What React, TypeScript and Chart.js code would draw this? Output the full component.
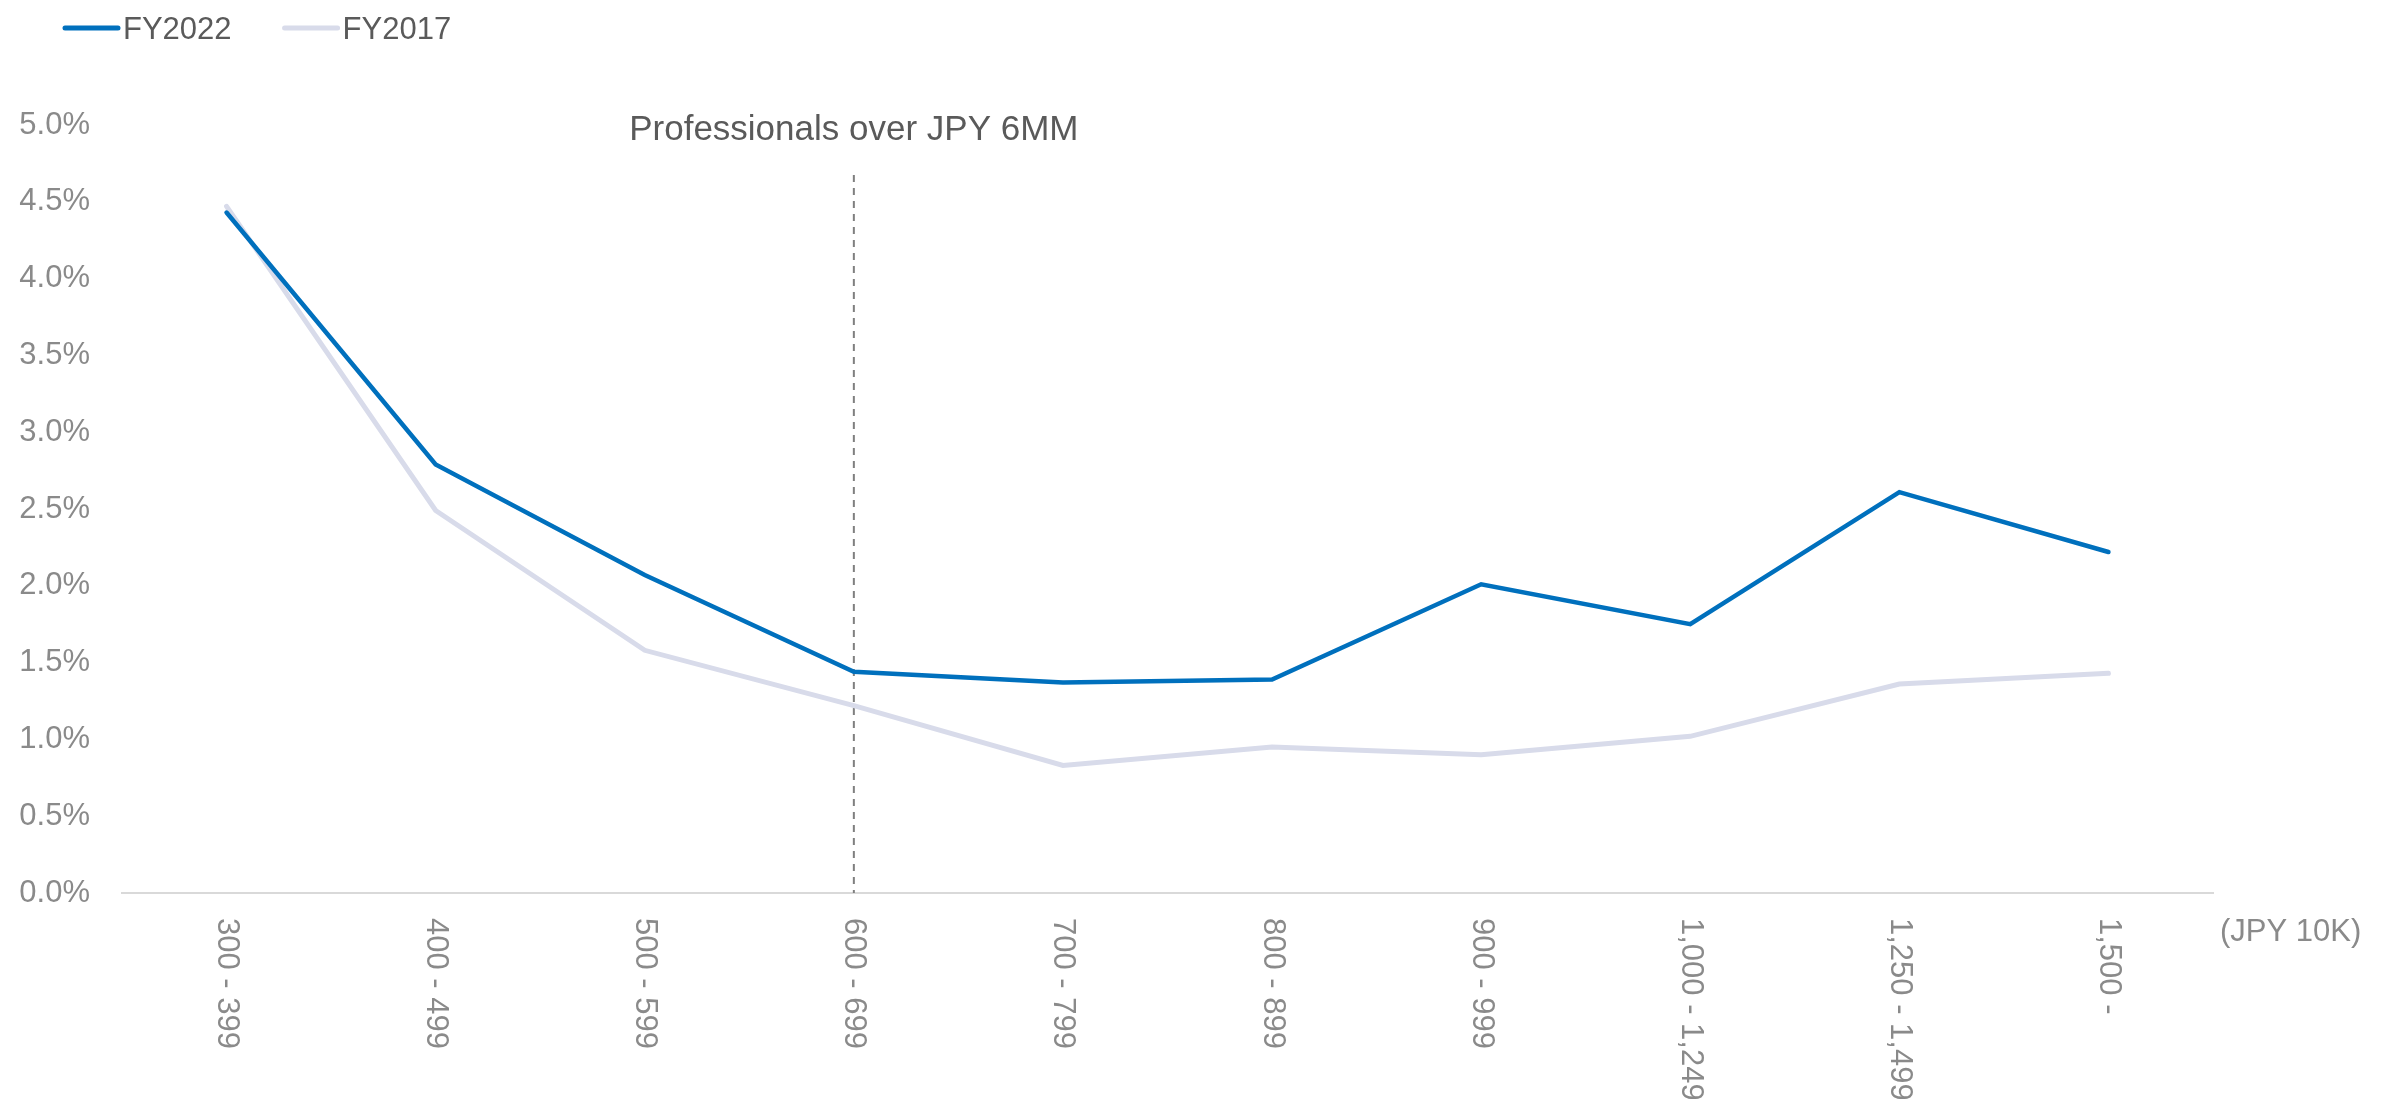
import React, { useEffect, useRef } from "react";
import { Chart, registerables } from "chart.js";

Chart.register(...registerables);

// ---- data ----
const categories = [
  "300 - 399",
  "400 - 499",
  "500 - 599",
  "600 - 699",
  "700 - 799",
  "800 - 899",
  "900 - 999",
  "1,000 - 1,249",
  "1,250 - 1,499",
  "1,500 -",
];
const fy2022 = [4.43, 2.79, 2.07, 1.44, 1.37, 1.39, 2.01, 1.75, 2.61, 2.22];
const fy2017 = [4.47, 2.49, 1.58, 1.22, 0.83, 0.95, 0.9, 1.02, 1.36, 1.43];
const seriesLabels = ["FY2022", "FY2017"];
const yMin = 0;
const yMax = 5;
const yStep = 0.5;
const thresholdIndex = 3;
const thresholdLabel = "Professionals over JPY 6MM";
const unitLabel = "(JPY 10K)";

const FONT = "'Liberation Sans', Arial, sans-serif";
const TICK_COLOR = "#8a8a8a";
const TEXT_COLOR = "#5a5a5a";

const overlayPlugin = {
  id: "overlay",
  beforeDatasetsDraw(chart: any) {
    const { ctx, chartArea } = chart;
    const x = chart.scales.x.getPixelForValue(thresholdIndex);
    ctx.save();
    ctx.strokeStyle = "#7f7f7f";
    ctx.lineWidth = 2;
    ctx.setLineDash([7, 6]);
    ctx.beginPath();
    ctx.moveTo(x, 175);
    ctx.lineTo(x, chartArea.bottom);
    ctx.stroke();
    ctx.restore();
  },
  afterDraw(chart: any) {
    const { ctx, chartArea } = chart;
    const xs = chart.scales.x;
    ctx.save();

    // annotation text
    const tx = xs.getPixelForValue(thresholdIndex);
    ctx.font = `35px ${FONT}`;
    ctx.fillStyle = TEXT_COLOR;
    ctx.textAlign = "center";
    ctx.textBaseline = "alphabetic";
    ctx.fillText(thresholdLabel, tx, 140);

    // rotated category labels (reading top to bottom)
    ctx.font = `31px ${FONT}`;
    ctx.fillStyle = TICK_COLOR;
    categories.forEach((c, i) => {
      const x = xs.getPixelForValue(i);
      ctx.save();
      ctx.translate(x, chartArea.bottom + 25);
      ctx.rotate(Math.PI / 2);
      ctx.textAlign = "left";
      ctx.textBaseline = "middle";
      ctx.fillText(c, 0, 0);
      ctx.restore();
    });

    // unit label
    ctx.textAlign = "left";
    ctx.textBaseline = "middle";
    ctx.fillText(unitLabel, chartArea.right + 7, 932);

    // legend
    let lx = 63;
    const ly = 28;
    ctx.font = `31px ${FONT}`;
    chart.data.datasets.forEach((ds: any) => {
      ctx.strokeStyle = ds.borderColor;
      ctx.lineWidth = 5;
      ctx.lineCap = "round";
      ctx.beginPath();
      ctx.moveTo(lx + 2, ly);
      ctx.lineTo(lx + 55, ly);
      ctx.stroke();
      ctx.fillStyle = TEXT_COLOR;
      ctx.textAlign = "left";
      ctx.textBaseline = "alphabetic";
      ctx.fillText(ds.label, lx + 60, ly + 11);
      const w = ctx.measureText(ds.label).width;
      lx += 60 + w + 51;
    });

    ctx.restore();
  },
};

export default function App() {
  const canvasRef = useRef<HTMLCanvasElement | null>(null);

  useEffect(() => {
    document.body.style.margin = "0";
    document.body.style.overflow = "hidden";
    const canvas = canvasRef.current;
    if (!canvas) return;
    const chart = new Chart(canvas, {
      type: "line",
      data: {
        labels: categories,
        datasets: [
          {
            label: seriesLabels[0],
            data: fy2022,
            borderColor: "#0070BD",
            backgroundColor: "#0070BD",
            borderWidth: 4.5,
            pointRadius: 0,
            tension: 0,
            borderCapStyle: "round",
            borderJoinStyle: "miter",
          },
          {
            label: seriesLabels[1],
            data: fy2017,
            borderColor: "#D8DBEA",
            backgroundColor: "#D8DBEA",
            borderWidth: 5,
            pointRadius: 0,
            tension: 0,
            borderCapStyle: "round",
            borderJoinStyle: "miter",
          },
        ],
      },
      options: {
        animation: false,
        responsive: true,
        maintainAspectRatio: false,
        layout: { padding: { top: 125, right: 183, left: 0, bottom: 0 } },
        plugins: {
          legend: { display: false },
          tooltip: { enabled: false },
        },
        scales: {
          x: {
            type: "category",
            offset: true,
            grid: { display: false, drawTicks: false },
            border: { display: true, color: "#d9d9d9", width: 2 },
            ticks: { display: false },
            afterFit: (s: any) => {
              s.height = 206;
            },
          },
          y: {
            min: yMin,
            max: yMax,
            grid: { display: false, drawTicks: false },
            border: { display: false },
            ticks: {
              stepSize: yStep,
              padding: 32,
              color: TICK_COLOR,
              font: { family: FONT, size: 31 },
              callback: (v: any) => Number(v).toFixed(1) + "%",
            },
            afterFit: (s: any) => {
              s.width = 122;
            },
          },
        },
      },
      plugins: [overlayPlugin],
    });
    return () => chart.destroy();
  }, []);

  return (
    <div style={{ position: "relative", width: "2396px", height: "1099px" }}>
      <canvas ref={canvasRef} />
    </div>
  );
}
